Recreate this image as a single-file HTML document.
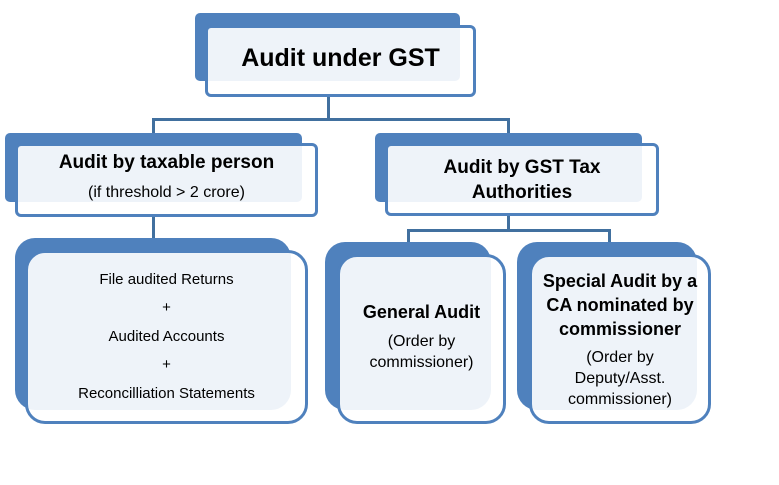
<!DOCTYPE html>
<html><head><style>
body{margin:0;width:779px;height:485px;background:#fff;position:relative;overflow:hidden;font-family:"Liberation Sans",sans-serif}
.b{position:absolute;background:#4f81bd}
.f{position:absolute;border:3px solid #4f81bd;background:rgba(255,255,255,0.9);box-sizing:border-box;display:flex;flex-direction:column;align-items:center;justify-content:center;text-align:center;color:#000}
.l{position:absolute;background:#41709f}
b{font-weight:bold}
</style></head><body>
<div class="l" style="left:327px;top:94px;width:3px;height:27px"></div>
<div class="l" style="left:152px;top:118px;width:358px;height:3px"></div>
<div class="l" style="left:152px;top:118px;width:3px;height:16px"></div>
<div class="l" style="left:507px;top:118px;width:3px;height:16px"></div>
<div class="l" style="left:152px;top:214px;width:3px;height:26px"></div>
<div class="l" style="left:507px;top:213px;width:3px;height:18px"></div>
<div class="l" style="left:407px;top:229px;width:204px;height:3px"></div>
<div class="l" style="left:407px;top:229px;width:3px;height:14px"></div>
<div class="l" style="left:608px;top:229px;width:3px;height:14px"></div>

<div class="b" style="left:195px;top:13px;width:265px;height:68px;border-radius:5px"></div>
<div class="f" style="left:205px;top:25px;width:271px;height:72px;border-radius:6px;font-size:25px;padding-bottom:6px"><b>Audit under GST</b></div>

<div class="b" style="left:5px;top:133px;width:297px;height:69px;border-radius:5px"></div>
<div class="f" style="left:15px;top:143px;width:303px;height:74px;border-radius:6px;justify-content:flex-start;padding-top:6px"><b style="font-size:19px">Audit by taxable person</b><div style="font-size:16px;margin-top:10px">(if threshold &gt; 2 crore)</div></div>

<div class="b" style="left:375px;top:133px;width:267px;height:69px;border-radius:5px"></div>
<div class="f" style="left:385px;top:143px;width:274px;height:73px;border-radius:6px;font-size:19px;line-height:25px"><b>Audit by GST Tax<br>Authorities</b></div>

<div class="b" style="left:15px;top:238px;width:276px;height:172px;border-radius:20px"></div>
<div class="f" style="left:25px;top:250px;width:283px;height:174px;border-radius:20px;font-size:15px;line-height:28.5px">File audited Returns<br>+<br>Audited Accounts<br>+<br>Reconcilliation Statements</div>

<div class="b" style="left:325px;top:242px;width:166px;height:168px;border-radius:20px"></div>
<div class="f" style="left:337px;top:254px;width:169px;height:170px;border-radius:20px;font-size:16px;line-height:21px;padding-bottom:4px"><b style="font-size:18px;margin-bottom:8px">General Audit</b>(Order by<br>commissioner)</div>

<div class="b" style="left:517px;top:242px;width:180px;height:168px;border-radius:20px"></div>
<div class="f" style="left:529px;top:254px;width:182px;height:170px;border-radius:20px;font-size:16px;line-height:21px"><b style="font-size:18px;line-height:24px;margin-bottom:6px">Special Audit by a<br>CA nominated by<br>commissioner</b>(Order by<br>Deputy/Asst.<br>commissioner)</div>
</body></html>
